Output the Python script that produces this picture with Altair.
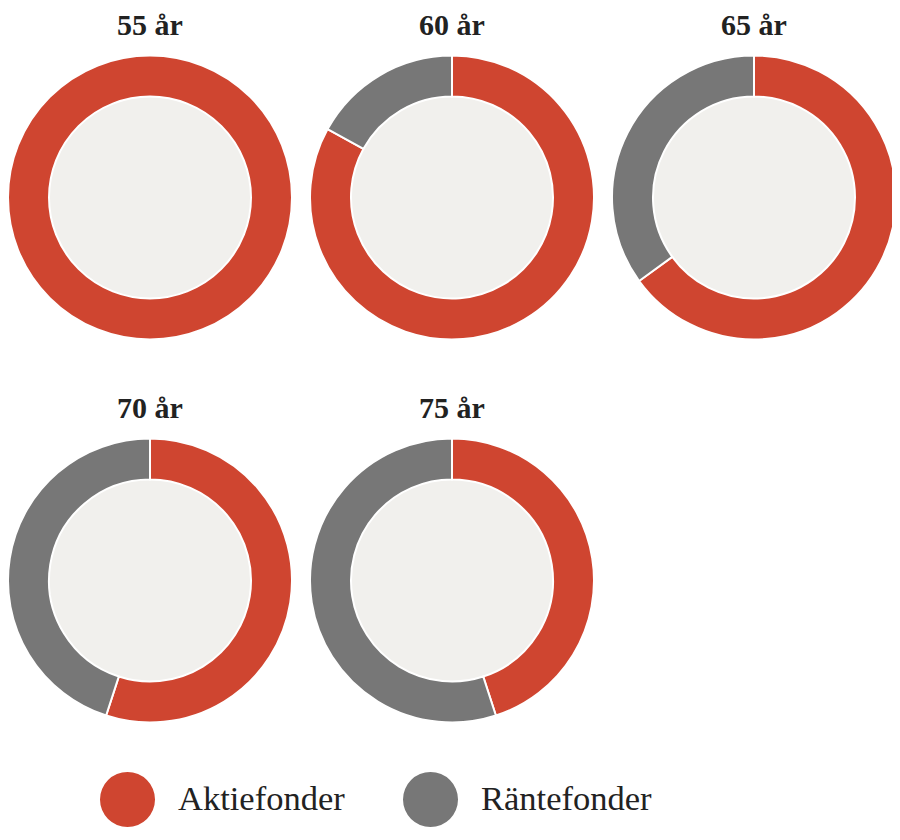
import altair as alt
import pandas as pd

ages = ["55 år", "60 år", "65 år", "70 år", "75 år"]
aktie = [100, 83, 65, 55, 45]
rante = [0, 17, 35, 45, 55]
categories = ["Aktiefonder", "Räntefonder"]
colors = ["#cf4530", "#777777"]

rows = []
titles = []
for i, (a, ak, ra) in enumerate(zip(ages, aktie, rante)):
    c, r = i % 3, i // 3
    rows.append({"age": a, "col": c, "row": r, "typ": categories[0], "value": ak, "ord": 0})
    rows.append({"age": a, "col": c, "row": r, "typ": categories[1], "value": ra, "ord": 1})
    titles.append({"age": a, "col": c, "row": r})
df = pd.DataFrame(rows)
tdf = pd.DataFrame(titles)

R_OUT = 142
R_IN = 101

xs = alt.Scale(type="point", domain=[0, 1, 2], range=[142, 746], padding=0)
ys = alt.Scale(type="point", domain=[0, 1], range=[189.5, 572.5], padding=0)
X = alt.X("col:O", scale=xs, axis=None)
Y = alt.Y("row:O", scale=ys, axis=None)

inner = alt.Chart(tdf).mark_arc(
    radius=R_IN, innerRadius=0, theta=0, theta2=6.2832, color="#f1f0ed", strokeWidth=0
).encode(x=X, y=Y)

ring = alt.Chart(df).transform_stack(
    stack="value", groupby=["age"], as_=["v0", "v1"], sort=[alt.SortField("ord", order="ascending")]
).transform_filter("datum.value > 0").mark_arc(
    radius=R_OUT, innerRadius=R_IN, stroke="white", strokeWidth=2
).encode(
    x=X, y=Y,
    theta=alt.Theta("v0:Q", scale=alt.Scale(domain=[0, 100])),
    theta2="v1:Q",
    color=alt.Color(
        "typ:N",
        scale=alt.Scale(domain=categories, range=colors),
        legend=alt.Legend(
            title=None,
            orient="none",
            direction="horizontal",
            legendX=92,
            legendY=764,
            symbolType="circle",
            symbolSize=3025,
            symbolStrokeWidth=0,
            symbolOpacity=1,
            labelFont="Liberation Serif",
            labelFontSize=34.5,
            labelLimit=400,
            labelColor="#222222",
            labelOffset=23,
            columnPadding=58,
            padding=0,
        ),
    ),
)

title_text = alt.Chart(tdf).mark_text(
    font="Liberation Serif", fontWeight="bold", fontSize=30, color="#222222",
    baseline="alphabetic", align="center", dy=-162.5,
).encode(x=X, y=Y, text="age:N")

chart = alt.layer(inner, ring, title_text).properties(
    width=884, height=824,
    padding={"left": 0, "top": 0, "right": 0, "bottom": 0},
    autosize=alt.AutoSizeParams(type="none"),
).configure_view(strokeWidth=0)

chart.save("out.html", embed_options={"renderer": "svg", "actions": False})
